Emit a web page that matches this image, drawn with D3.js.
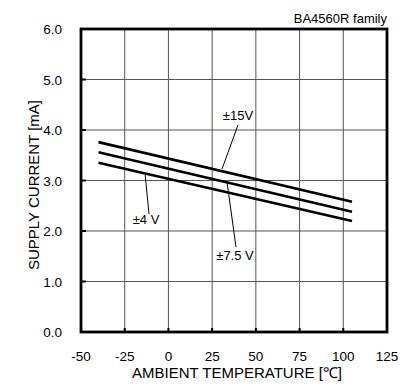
<!DOCTYPE html>
<html>
<head>
<meta charset="utf-8">
<style>
    body { margin: 0; background: white; }
    svg { font-family: "Liberation Sans", Arial, sans-serif; }
</style>
</head>
<body>
<script src="https://cdn.jsdelivr.net/npm/d3@7"></script>
<script>
    // supply current vs ambient temperature
    var temps = [-40, 105]
    var current15 = [3.76, 2.58]
    var current75 = [3.56, 2.38]
    var current4 = [3.35, 2.20]
    var xTicks = [-50, -25, 0, 25, 50, 75, 100, 125]
    var yTicks = [0, 1, 2, 3, 4, 5, 6]

    var series = [
        {name: "±15V", values: current15},
        {name: "±7.5 V", values: current75},
        {name: "±4 V", values: current4}
    ]

    // label text position and leader line ends, in pixels
    var labels = [
        {text: "±15V", lx: 238, ly: 120, x1: 238, y1: 125, x2: 222, y2: 169},
        {text: "±4 V", lx: 146, ly: 224, x1: 145, y1: 173, x2: 149, y2: 214},
        {text: "±7.5 V", lx: 235, ly: 260, x1: 227, y1: 182, x2: 236, y2: 247}
    ]

    var width = 409, height = 390
    var plotLeft = 81, plotRight = 387, plotTop = 29, plotBottom = 332

    var svg = d3.select("body").append("svg")
        .attr("width", width)
        .attr("height", height)

    var x = d3.scaleLinear().domain([-50, 125]).range([plotLeft, plotRight])
    var y = d3.scaleLinear().domain([0, 6]).range([plotBottom, plotTop])

    // grid
    svg.selectAll(".vgrid")
        .data(xTicks.slice(1, -1))
        .enter().append("line")
        .attr("x1", d => x(d)).attr("x2", d => x(d))
        .attr("y1", plotTop).attr("y2", plotBottom)
        .attr("stroke", "#555").attr("stroke-width", 1)

    svg.selectAll(".hgrid")
        .data(yTicks.slice(1, -1))
        .enter().append("line")
        .attr("y1", d => y(d)).attr("y2", d => y(d))
        .attr("x1", plotLeft).attr("x2", plotRight)
        .attr("stroke", "#555").attr("stroke-width", 1)

    // small inside ticks
    svg.selectAll(".ytick")
        .data(yTicks.slice(1, -1))
        .enter().append("line")
        .attr("y1", d => y(d)).attr("y2", d => y(d))
        .attr("x1", plotLeft).attr("x2", plotLeft + 5)
        .attr("stroke", "black").attr("stroke-width", 2)

    svg.selectAll(".xtick")
        .data(xTicks.slice(1, -1))
        .enter().append("line")
        .attr("x1", d => x(d)).attr("x2", d => x(d))
        .attr("y1", plotBottom).attr("y2", plotBottom - 4)
        .attr("stroke", "black").attr("stroke-width", 2)

    // frame
    svg.append("rect")
        .attr("x", plotLeft).attr("y", plotTop)
        .attr("width", plotRight - plotLeft).attr("height", plotBottom - plotTop)
        .attr("fill", "none").attr("stroke", "black").attr("stroke-width", 2.8)

    // tick labels
    svg.selectAll(".ylab")
        .data(yTicks)
        .enter().append("text")
        .attr("x", 62)
        .attr("y", d => y(d) + 5)
        .attr("text-anchor", "end")
        .attr("font-size", 13.5)
        .text(d => d.toFixed(1))

    svg.selectAll(".xlab")
        .data(xTicks)
        .enter().append("text")
        .attr("x", d => x(d))
        .attr("y", 361)
        .attr("text-anchor", "middle")
        .attr("font-size", 13.5)
        .text(d => d)

    // axis titles
    svg.append("text")
        .attr("x", 237).attr("y", 378)
        .attr("text-anchor", "middle")
        .attr("font-size", 15)
        .text("AMBIENT TEMPERATURE [℃]")

    svg.append("text")
        .attr("transform", "translate(39,185) rotate(-90)")
        .attr("text-anchor", "middle")
        .attr("font-size", 15)
        .text("SUPPLY CURRENT [mA]")

    svg.append("text")
        .attr("x", 387).attr("y", 23)
        .attr("text-anchor", "end")
        .attr("font-size", 13)
        .text("BA4560R  family")

    // data lines
    var line = d3.line()
        .x((d, i) => x(temps[i]))
        .y(d => y(d))

    svg.selectAll(".series")
        .data(series)
        .enter().append("path")
        .attr("d", d => line(d.values))
        .attr("fill", "none")
        .attr("stroke", "black")
        .attr("stroke-width", 2.6)

    // annotations
    svg.selectAll(".leader")
        .data(labels)
        .enter().append("line")
        .attr("x1", d => d.x1).attr("y1", d => d.y1)
        .attr("x2", d => d.x2).attr("y2", d => d.y2)
        .attr("stroke", "black").attr("stroke-width", 1)

    svg.selectAll(".ann")
        .data(labels)
        .enter().append("text")
        .attr("x", d => d.lx).attr("y", d => d.ly)
        .attr("text-anchor", "middle")
        .attr("font-size", 13)
        .text(d => d.text)
</script>
</body>
</html>
